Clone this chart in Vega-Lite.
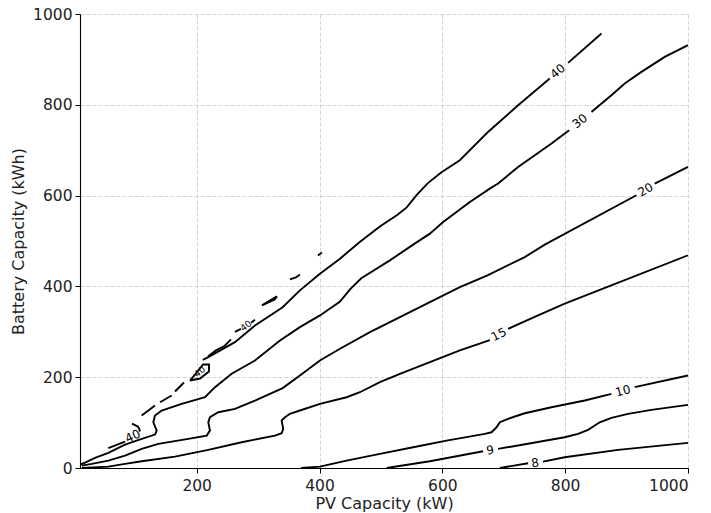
{
  "$schema": "https://vega.github.io/schema/vega-lite/v6.json",
  "width": 608,
  "height": 454,
  "autosize": {"type": "none"},
  "padding": {"left": 80, "top": 14, "right": 23, "bottom": 45},
  "config": {
    "view": {"stroke": null},
    "font": "DejaVu Sans",
    "axis": {
      "grid": true,
      "gridColor": "#c8c8c8",
      "gridDash": [4, 2],
      "gridWidth": 0.8,
      "domainColor": "#000000",
      "domainWidth": 1.1,
      "tickColor": "#000000",
      "tickSize": 5,
      "labelFont": "DejaVu Sans",
      "labelFontSize": 15.5,
      "labelColor": "#222222",
      "titleFont": "DejaVu Sans",
      "titleFontSize": 16,
      "titleFontWeight": "normal",
      "titleColor": "#222222"
    }
  },
  "datasets": {
    "contours": [
      {"s": "40a", "i": 0, "x": 859.1, "y": 957.2}, {"s": "40a", "i": 1, "x": 804.7, "y": 892.4},
      {"s": "40b", "i": 0, "x": 774.9, "y": 858}, {"s": "40b", "i": 1, "x": 723.4, "y": 799.1},
      {"s": "40b", "i": 2, "x": 673, "y": 738.5}, {"s": "40b", "i": 3, "x": 628.5, "y": 677.8},
      {"s": "40b", "i": 4, "x": 598, "y": 651}, {"s": "40b", "i": 5, "x": 576, "y": 627},
      {"s": "40b", "i": 6, "x": 558, "y": 601}, {"s": "40b", "i": 7, "x": 542, "y": 574},
      {"s": "40b", "i": 8, "x": 527, "y": 558}, {"s": "40b", "i": 9, "x": 498.3, "y": 532},
      {"s": "40b", "i": 10, "x": 464.5, "y": 496.7}, {"s": "40b", "i": 11, "x": 433.3, "y": 461.1},
      {"s": "40b", "i": 12, "x": 400.7, "y": 428}, {"s": "40b", "i": 13, "x": 368.1, "y": 391.2},
      {"s": "40b", "i": 14, "x": 340, "y": 354}, {"s": "40b", "i": 15, "x": 294.9, "y": 314},
      {"s": "40b", "i": 16, "x": 262.3, "y": 277.2}, {"s": "40b", "i": 17, "x": 218.9, "y": 244.1},
      {"s": "40b", "i": 18, "x": 210, "y": 238},

      {"s": "f1", "i": 0, "x": 56.1, "y": 43.9}, {"s": "f1", "i": 1, "x": 83.3, "y": 58.2},
      {"s": "f2", "i": 0, "x": 107.7, "y": 80.3}, {"s": "f2", "i": 1, "x": 106.5, "y": 86},
      {"s": "f2", "i": 2, "x": 104.4, "y": 91.3}, {"s": "f2", "i": 3, "x": 94.7, "y": 97.9},
      {"s": "f3", "i": 0, "x": 110.5, "y": 115.5}, {"s": "f3", "i": 1, "x": 132.1, "y": 137.6},
      {"s": "f4", "i": 0, "x": 140.3, "y": 144.9}, {"s": "f4", "i": 1, "x": 159.3, "y": 159.6},
      {"s": "f5", "i": 0, "x": 164.7, "y": 168.5}, {"s": "f5", "i": 1, "x": 179.3, "y": 188.3},
      {"s": "f7", "i": 0, "x": 189.1, "y": 192.7}, {"s": "f7", "i": 1, "x": 198.9, "y": 208.2},
      {"s": "f7", "i": 2, "x": 210.3, "y": 228}, {"s": "f7", "i": 3, "x": 220, "y": 228},
      {"s": "f7", "i": 4, "x": 220, "y": 212.6}, {"s": "f7", "i": 5, "x": 205.4, "y": 197.1},
      {"s": "f7", "i": 6, "x": 189.1, "y": 192.7},
      {"s": "f8", "i": 0, "x": 218.4, "y": 245.8}, {"s": "f8", "i": 1, "x": 231.4, "y": 259},
      {"s": "f8", "i": 2, "x": 244.4, "y": 267.9}, {"s": "f8", "i": 3, "x": 255.8, "y": 283.3},
      {"s": "f9a", "i": 0, "x": 262.3, "y": 299.9}, {"s": "f9a", "i": 1, "x": 272.1, "y": 306.6},
      {"s": "f9b", "i": 0, "x": 288.4, "y": 319.8}, {"s": "f9b", "i": 1, "x": 294.9, "y": 326.4},
      {"s": "f10", "i": 0, "x": 306.3, "y": 358.1}, {"s": "f10", "i": 1, "x": 330.7, "y": 377.9},
      {"s": "f10", "i": 2, "x": 327, "y": 371}, {"s": "f10", "i": 3, "x": 306.3, "y": 358.1},
      {"s": "f11", "i": 0, "x": 351.8, "y": 415.4}, {"s": "f11", "i": 1, "x": 361.6, "y": 419.8},
      {"s": "f11", "i": 2, "x": 368.1, "y": 426.4},
      {"s": "f12", "i": 0, "x": 397.4, "y": 468.3}, {"s": "f12", "i": 1, "x": 404, "y": 474.9},

      {"s": "30a", "i": 0, "x": 1000, "y": 931.4}, {"s": "30a", "i": 1, "x": 962.1, "y": 905.6},
      {"s": "30a", "i": 2, "x": 924.2, "y": 872.5}, {"s": "30a", "i": 3, "x": 897, "y": 847},
      {"s": "30a", "i": 4, "x": 875.3, "y": 821.2}, {"s": "30a", "i": 5, "x": 842.8, "y": 784.3},
      {"s": "30b", "i": 0, "x": 806.5, "y": 744}, {"s": "30b", "i": 1, "x": 777.7, "y": 714.7},
      {"s": "30b", "i": 2, "x": 723.4, "y": 663.1}, {"s": "30b", "i": 3, "x": 690.8, "y": 626.5},
      {"s": "30b", "i": 4, "x": 677.3, "y": 615.4}, {"s": "30b", "i": 5, "x": 644.8, "y": 585.9},
      {"s": "30b", "i": 6, "x": 623.1, "y": 563.8}, {"s": "30b", "i": 7, "x": 601.3, "y": 541.8},
      {"s": "30b", "i": 8, "x": 579.7, "y": 516.2}, {"s": "30b", "i": 9, "x": 552.5, "y": 492},
      {"s": "30b", "i": 10, "x": 514.6, "y": 457.3}, {"s": "30b", "i": 11, "x": 468, "y": 418},
      {"s": "30b", "i": 12, "x": 450, "y": 394}, {"s": "30b", "i": 13, "x": 433, "y": 366},
      {"s": "30b", "i": 14, "x": 400.7, "y": 336.1}, {"s": "30b", "i": 15, "x": 368.1, "y": 310.3},
      {"s": "30b", "i": 16, "x": 335.6, "y": 280.9}, {"s": "30b", "i": 17, "x": 294.9, "y": 236.8},
      {"s": "30b", "i": 18, "x": 257, "y": 207.5}, {"s": "30b", "i": 19, "x": 229.8, "y": 178},
      {"s": "30b", "i": 20, "x": 213.5, "y": 155.9}, {"s": "30b", "i": 21, "x": 175.6, "y": 141.3},
      {"s": "30b", "i": 22, "x": 143, "y": 126.6}, {"s": "30b", "i": 23, "x": 132.1, "y": 115.5},
      {"s": "30b", "i": 24, "x": 129.4, "y": 100.8}, {"s": "30b", "i": 25, "x": 134.9, "y": 82.5},
      {"s": "30b", "i": 26, "x": 132.1, "y": 73.6}, {"s": "30b", "i": 27, "x": 110.5, "y": 64.2},
      {"s": "30b", "i": 28, "x": 83.3, "y": 51.6}, {"s": "30b", "i": 29, "x": 56.1, "y": 33.3},
      {"s": "30b", "i": 30, "x": 34.5, "y": 22.3}, {"s": "30b", "i": 31, "x": 18.2, "y": 11.9},
      {"s": "30b", "i": 32, "x": 10, "y": 7.5},

      {"s": "20a", "i": 0, "x": 1000, "y": 663.1}, {"s": "20a", "i": 1, "x": 945.8, "y": 626.5},
      {"s": "20b", "i": 0, "x": 916, "y": 600.7}, {"s": "20b", "i": 1, "x": 766.8, "y": 492},
      {"s": "20b", "i": 2, "x": 734.2, "y": 464.6}, {"s": "20b", "i": 3, "x": 673.5, "y": 424.3},
      {"s": "20b", "i": 4, "x": 628.5, "y": 398.5}, {"s": "20b", "i": 5, "x": 579.7, "y": 365.4},
      {"s": "20b", "i": 6, "x": 530.9, "y": 332.3}, {"s": "20b", "i": 7, "x": 482.1, "y": 299.2},
      {"s": "20b", "i": 8, "x": 433.3, "y": 262.6}, {"s": "20b", "i": 9, "x": 400.7, "y": 236.8},
      {"s": "20b", "i": 10, "x": 368.1, "y": 203.7}, {"s": "20b", "i": 11, "x": 340, "y": 176},
      {"s": "20b", "i": 12, "x": 294.9, "y": 148.6}, {"s": "20b", "i": 13, "x": 262.3, "y": 130.3},
      {"s": "20b", "i": 14, "x": 235.2, "y": 122.8}, {"s": "20b", "i": 15, "x": 221.6, "y": 111.8},
      {"s": "20b", "i": 16, "x": 218.9, "y": 100.8}, {"s": "20b", "i": 17, "x": 221.6, "y": 82.5},
      {"s": "20b", "i": 18, "x": 216.3, "y": 71.4}, {"s": "20b", "i": 19, "x": 186.3, "y": 64.2},
      {"s": "20b", "i": 20, "x": 137.5, "y": 53.1}, {"s": "20b", "i": 21, "x": 110.5, "y": 42.1},
      {"s": "20b", "i": 22, "x": 83.3, "y": 27.3}, {"s": "20b", "i": 23, "x": 56.1, "y": 16.3},
      {"s": "20b", "i": 24, "x": 29.1, "y": 9}, {"s": "20b", "i": 25, "x": 12.9, "y": 5.3},

      {"s": "15a", "i": 0, "x": 1000, "y": 468.4}, {"s": "15a", "i": 1, "x": 799.3, "y": 361.9},
      {"s": "15a", "i": 2, "x": 755.9, "y": 336.1}, {"s": "15a", "i": 3, "x": 707.1, "y": 306.7},
      {"s": "15b", "i": 0, "x": 677.3, "y": 281.5}, {"s": "15b", "i": 1, "x": 628.5, "y": 258.9},
      {"s": "15b", "i": 2, "x": 579.7, "y": 233.1}, {"s": "15b", "i": 3, "x": 530.9, "y": 207.5},
      {"s": "15b", "i": 4, "x": 498.3, "y": 189}, {"s": "15b", "i": 5, "x": 465.8, "y": 166.9},
      {"s": "15b", "i": 6, "x": 444.1, "y": 155.9}, {"s": "15b", "i": 7, "x": 400.7, "y": 141.3},
      {"s": "15b", "i": 8, "x": 368.1, "y": 126.6}, {"s": "15b", "i": 9, "x": 351.8, "y": 119.3},
      {"s": "15b", "i": 10, "x": 343.7, "y": 111.8}, {"s": "15b", "i": 11, "x": 338.3, "y": 104.5},
      {"s": "15b", "i": 12, "x": 340.9, "y": 86.2}, {"s": "15b", "i": 13, "x": 338.3, "y": 76.5},
      {"s": "15b", "i": 14, "x": 327.4, "y": 71.4}, {"s": "15b", "i": 15, "x": 273.2, "y": 56.7},
      {"s": "15b", "i": 16, "x": 218.9, "y": 39.9}, {"s": "15b", "i": 17, "x": 164.7, "y": 25.1},
      {"s": "15b", "i": 18, "x": 110.5, "y": 14.8}, {"s": "15b", "i": 19, "x": 83.3, "y": 9},
      {"s": "15b", "i": 20, "x": 56.1, "y": 3.1}, {"s": "15b", "i": 21, "x": 12.9, "y": 0},

      {"s": "10a", "i": 0, "x": 1000, "y": 203.7}, {"s": "10a", "i": 1, "x": 913.3, "y": 178},
      {"s": "10b", "i": 0, "x": 875.3, "y": 163.4}, {"s": "10b", "i": 1, "x": 831.9, "y": 148.6},
      {"s": "10b", "i": 2, "x": 777.7, "y": 133.8}, {"s": "10b", "i": 3, "x": 734.2, "y": 120.6},
      {"s": "10b", "i": 4, "x": 707.1, "y": 108.3}, {"s": "10b", "i": 5, "x": 693.6, "y": 100.8},
      {"s": "10b", "i": 6, "x": 688.2, "y": 89.7}, {"s": "10b", "i": 7, "x": 680, "y": 78.7},
      {"s": "10b", "i": 8, "x": 669.2, "y": 75.2}, {"s": "10b", "i": 9, "x": 606.8, "y": 60.4},
      {"s": "10b", "i": 10, "x": 552.5, "y": 45.6}, {"s": "10b", "i": 11, "x": 498.3, "y": 31.1},
      {"s": "10b", "i": 12, "x": 444.1, "y": 16.3}, {"s": "10b", "i": 13, "x": 400.7, "y": 3.1},
      {"s": "10b", "i": 14, "x": 370, "y": 0},

      {"s": "9a", "i": 0, "x": 1000, "y": 139.1}, {"s": "9a", "i": 1, "x": 940.4, "y": 128.1},
      {"s": "9a", "i": 2, "x": 902.4, "y": 119.3}, {"s": "9a", "i": 3, "x": 875.3, "y": 110.5},
      {"s": "9a", "i": 4, "x": 856.3, "y": 100.8}, {"s": "9a", "i": 5, "x": 848.2, "y": 93.5},
      {"s": "9a", "i": 6, "x": 837.3, "y": 84}, {"s": "9a", "i": 7, "x": 821, "y": 75.2},
      {"s": "9a", "i": 8, "x": 799.3, "y": 67.7}, {"s": "9a", "i": 9, "x": 690.8, "y": 42.1},
      {"s": "9b", "i": 0, "x": 666.4, "y": 36.8}, {"s": "9b", "i": 1, "x": 579.7, "y": 14.8},
      {"s": "9b", "i": 2, "x": 509.2, "y": 0},

      {"s": "8a", "i": 0, "x": 693.6, "y": 0}, {"s": "8a", "i": 1, "x": 739.6, "y": 10.4},
      {"s": "8b", "i": 0, "x": 764, "y": 14.1}, {"s": "8b", "i": 1, "x": 799.3, "y": 23.6},
      {"s": "8b", "i": 2, "x": 886.1, "y": 39.9}, {"s": "8b", "i": 3, "x": 1000, "y": 55.3}
    ],
    "labels": [
      {"k": "a40", "t": "40", "x": 788, "y": 874},
      {"k": "a30", "t": "30", "x": 824, "y": 764},
      {"k": "a20", "t": "20", "x": 931, "y": 613},
      {"k": "a15", "t": "15", "x": 692, "y": 294},
      {"k": "a10", "t": "10", "x": 894, "y": 170},
      {"k": "a9", "t": "9", "x": 678, "y": 39},
      {"k": "a8", "t": "8", "x": 751, "y": 11},
      {"k": "b40", "t": "40", "x": 96, "y": 70},
      {"k": "c40", "t": "40", "x": 280, "y": 313},
      {"k": "d40", "t": "40", "x": 205, "y": 212}
    ]
  },
  "layer": [
    {
      "data": {"name": "contours"},
      "mark": {"type": "line", "color": "#000000", "strokeWidth": 1.9, "clip": true},
      "encoding": {
        "x": {
          "field": "x", "type": "quantitative",
          "scale": {"domain": [10, 1000], "nice": false, "zero": false},
          "axis": {"title": "PV Capacity (kW)", "values": [200, 400, 600, 800, 1000], "format": "d", "labelPadding": 5, "titlePadding": 2}
        },
        "y": {
          "field": "y", "type": "quantitative",
          "scale": {"domain": [0, 1000], "nice": false},
          "axis": {"title": "Battery Capacity (kWh)", "values": [0, 200, 400, 600, 800, 1000], "format": "d", "labelPadding": 3, "titlePadding": 6}
        },
        "detail": {"field": "s"},
        "order": {"field": "i", "type": "quantitative"}
      }
    },
    {
      "data": {"name": "labels"},
      "transform": [{"filter": "datum.k == 'a40'"}],
      "mark": {"type": "text", "angle": -40, "fontSize": 12, "font": "DejaVu Sans", "color": "#000000"},
      "encoding": {"x": {"field": "x", "type": "quantitative"}, "y": {"field": "y", "type": "quantitative"}, "text": {"field": "t"}}
    },
    {
      "data": {"name": "labels"},
      "transform": [{"filter": "datum.k == 'a30'"}],
      "mark": {"type": "text", "angle": -38, "fontSize": 12, "font": "DejaVu Sans", "color": "#000000"},
      "encoding": {"x": {"field": "x", "type": "quantitative"}, "y": {"field": "y", "type": "quantitative"}, "text": {"field": "t"}}
    },
    {
      "data": {"name": "labels"},
      "transform": [{"filter": "datum.k == 'a20'"}],
      "mark": {"type": "text", "angle": -30, "fontSize": 12, "font": "DejaVu Sans", "color": "#000000"},
      "encoding": {"x": {"field": "x", "type": "quantitative"}, "y": {"field": "y", "type": "quantitative"}, "text": {"field": "t"}}
    },
    {
      "data": {"name": "labels"},
      "transform": [{"filter": "datum.k == 'a15'"}],
      "mark": {"type": "text", "angle": -27, "fontSize": 12, "font": "DejaVu Sans", "color": "#000000"},
      "encoding": {"x": {"field": "x", "type": "quantitative"}, "y": {"field": "y", "type": "quantitative"}, "text": {"field": "t"}}
    },
    {
      "data": {"name": "labels"},
      "transform": [{"filter": "datum.k == 'a10'"}],
      "mark": {"type": "text", "angle": -15, "fontSize": 12, "font": "DejaVu Sans", "color": "#000000"},
      "encoding": {"x": {"field": "x", "type": "quantitative"}, "y": {"field": "y", "type": "quantitative"}, "text": {"field": "t"}}
    },
    {
      "data": {"name": "labels"},
      "transform": [{"filter": "datum.k == 'a9' || datum.k == 'a8'"}],
      "mark": {"type": "text", "angle": -9, "fontSize": 12, "font": "DejaVu Sans", "color": "#000000"},
      "encoding": {"x": {"field": "x", "type": "quantitative"}, "y": {"field": "y", "type": "quantitative"}, "text": {"field": "t"}}
    },
    {
      "data": {"name": "labels"},
      "transform": [{"filter": "datum.k == 'b40'"}],
      "mark": {"type": "text", "angle": -25, "fontSize": 12, "font": "DejaVu Sans", "color": "#000000"},
      "encoding": {"x": {"field": "x", "type": "quantitative"}, "y": {"field": "y", "type": "quantitative"}, "text": {"field": "t"}}
    },
    {
      "data": {"name": "labels"},
      "transform": [{"filter": "datum.k == 'c40' || datum.k == 'd40'"}],
      "mark": {"type": "text", "angle": -38, "fontSize": 9, "font": "DejaVu Sans", "color": "#000000"},
      "encoding": {"x": {"field": "x", "type": "quantitative"}, "y": {"field": "y", "type": "quantitative"}, "text": {"field": "t"}}
    }
  ]
}
